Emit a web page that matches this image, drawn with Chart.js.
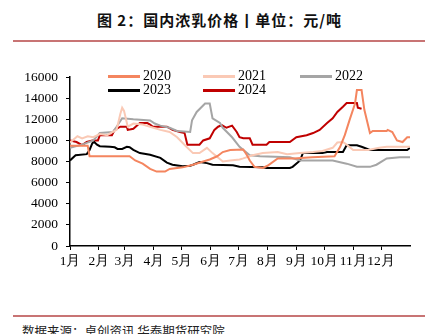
<!DOCTYPE html>
<html><head><meta charset="utf-8">
<script src="https://cdn.jsdelivr.net/npm/chart.js@4/dist/chart.umd.min.js"></script>
<style>
html,body{margin:0;padding:0;background:#fff;}
body{width:439px;height:334px;position:relative;overflow:hidden;font-family:"Liberation Serif",serif;}
#title{position:absolute;left:0;width:439px;top:10px;text-align:center;font-family:"Noto Sans CJK SC",sans-serif;font-weight:bold;font-size:15px;letter-spacing:1px;color:#111;line-height:20px;}
.rule{position:absolute;left:13px;width:412px;height:2px;background:#C87474;}
#src{position:absolute;left:22px;top:321px;font-family:"Noto Sans CJK SC",sans-serif;font-size:12.5px;color:#222;white-space:nowrap;}
#wrap{position:absolute;left:0;top:61px;width:439px;height:218px;}
#legend{position:absolute;left:0;top:0;width:439px;height:100px;pointer-events:none;}
.li{position:absolute;font-family:"Liberation Serif",serif;font-size:14px;color:#000;line-height:14px;}
.li span.sw{position:absolute;left:0;top:6px;width:32px;height:3px;}
.li span.tx{position:absolute;left:35px;top:0;}
</style></head>
<body>
<div id="title">图 2：国内浓乳价格丨单位：元/吨</div>
<div class="rule" style="top:40px"></div>
<div id="wrap"><canvas id="c"></canvas></div>
<div id="legend"></div>
<div class="rule" style="top:315px"></div>
<div id="src">数据来源：卓创资讯 华泰期货研究院</div>
<script>
// ---- data (x = day of year) ----
const monthLabels = ["1月","2月","3月","4月","5月","6月","7月","8月","9月","10月","11月","12月"];
const monthStarts = [0,31,59,90,120,151,181,212,243,273,304,334];
const seriesNames = ["2020","2021","2022","2023","2024"];

const day2020 = [0,19,21,64,70,78,86,93,102,107,121,132,143,150,158,164,172,186,190,193,198,207,212,223,240,260,284,290,295,300,306,308,313,316,322,325,340,341,346,351,357,362,365];
const val2020 = [9500,9500,8500,8500,8100,7800,7300,7050,7050,7300,7450,7700,8000,8200,8500,8900,9100,9150,8600,8100,7500,7400,7600,8300,8300,8400,8500,9400,10500,11900,13500,14770,14770,12900,10700,10900,10900,11000,10800,10000,9850,10300,10300];

const day2021 = [0,8,13,19,25,32,40,46,50,54,56,58,62,68,78,86,97,107,115,125,132,139,147,153,164,172,182,186,196,207,223,233,247,261,271,282,287,293,297,304,320,332,340,365];
const val2021 = [9800,10400,10200,10400,10300,10600,10500,10800,11000,12500,13100,12800,11300,11600,11500,11300,11000,10800,10300,9400,8800,8800,9300,8800,8000,8100,8200,8300,8600,8800,8900,8700,8800,8900,9000,9300,9800,9850,9600,9100,9100,9300,9400,9400];

const day2022 = [0,13,25,32,46,50,56,68,86,91,97,107,115,129,131,136,145,150,153,161,164,174,182,193,204,236,247,282,297,308,322,329,340,354,365];
const val2022 = [9300,9600,10000,10700,10800,11300,12100,12000,11900,11600,11400,11200,10900,10800,11900,12700,13500,13500,12100,11650,11200,10300,9400,8600,8500,8400,8100,8100,7800,7500,7500,7700,8300,8400,8400];

const day2023 = [0,6,18,21,24,26,29,32,43,48,51,56,61,64,68,75,86,97,104,110,121,129,132,139,147,153,175,182,207,211,236,239,247,250,271,276,293,297,308,313,322,362,365];
const val2023 = [8100,8600,8700,9100,9750,9850,9600,9450,9400,9350,9200,9200,9400,9350,9100,8800,8650,8350,7900,7700,7550,7600,7700,7950,7850,7700,7650,7500,7450,7400,7400,7500,8100,8800,8800,8900,8900,9550,9550,9400,9100,9100,9300];

const day2024 = [0,7,13,18,24,30,32,45,48,54,61,62,68,75,83,86,89,104,110,118,123,126,139,143,150,155,159,163,168,174,179,182,186,193,196,211,214,236,243,254,261,268,276,282,287,293,297,308,309,313];
const val2024 = [10000,9850,9550,9850,10000,10000,10500,10500,11000,11300,11300,11000,11100,11650,11650,11500,11300,11300,11000,10800,10700,9600,9600,10000,10200,11000,11300,11450,11200,11400,10800,10300,10200,10200,9600,9600,9850,9850,10300,10500,10700,11000,11650,12100,12700,13200,13550,13550,13100,13000];

const colors = ["#F4855F","#FAC9B5","#A5A5A5","#000000","#C00000"];

function pts(d,v){return d.map((x,i)=>({x:x,y:v[i]}));}
const allDays=[day2020,day2021,day2022,day2023,day2024];
const allVals=[val2020,val2021,val2022,val2023,val2024];

const datasets = seriesNames.map((n,i)=>({
  label:n, data:pts(allDays[i],allVals[i]), borderColor:colors[i], backgroundColor:colors[i],
  borderWidth:2, pointRadius:0, tension:0, fill:false
}));

const chart = new Chart(document.getElementById('c'),{
  type:'line',
  data:{datasets:datasets},
  options:{
    responsive:true, maintainAspectRatio:false, animation:false,
    layout:{padding:{top:7,right:29,left:0,bottom:0}},
    plugins:{legend:{display:false},tooltip:{enabled:false}},
    scales:{
      x:{type:'linear',min:0,max:365,
        afterBuildTicks:(s)=>{s.ticks=monthStarts.map(v=>({value:v}));},
        afterFit:(s)=>{s.height=33;},
        ticks:{autoSkip:false,maxRotation:0,padding:3,color:'#000',font:{family:'Liberation Serif',size:13.5},
          callback:(v)=>{const k=monthStarts.indexOf(v);return k>=0?monthLabels[k]:'';}},
        grid:{display:true,drawOnChartArea:false,drawTicks:true,tickLength:4,color:'#000',lineWidth:1},
        border:{display:true,color:'#000',width:1.5}
      },
      y:{min:0,max:16000,
        afterFit:(s)=>{s.width=70;},
        ticks:{stepSize:2000,padding:8,color:'#000',font:{family:'Liberation Serif',size:13.5},
          callback:(v)=>String(v)},
        grid:{display:true,drawOnChartArea:false,drawTicks:true,tickLength:4,color:'#000',lineWidth:1},
        border:{display:true,color:'#000',width:1.5}
      }
    }
  }
});

// HTML legend built from datasets
const legPos=[[108,69],[203,69],[300,69],[108,83],[203,83]];
const leg=document.getElementById('legend');
chart.data.datasets.forEach((ds,i)=>{
  const d=document.createElement('div');d.className='li';
  d.style.left=legPos[i][0]+'px';d.style.top=legPos[i][1]+'px';
  d.innerHTML='<span class="sw" style="background:'+ds.borderColor+'"></span><span class="tx">'+ds.label+'</span>';
  leg.appendChild(d);
});
</script>
</body></html>
